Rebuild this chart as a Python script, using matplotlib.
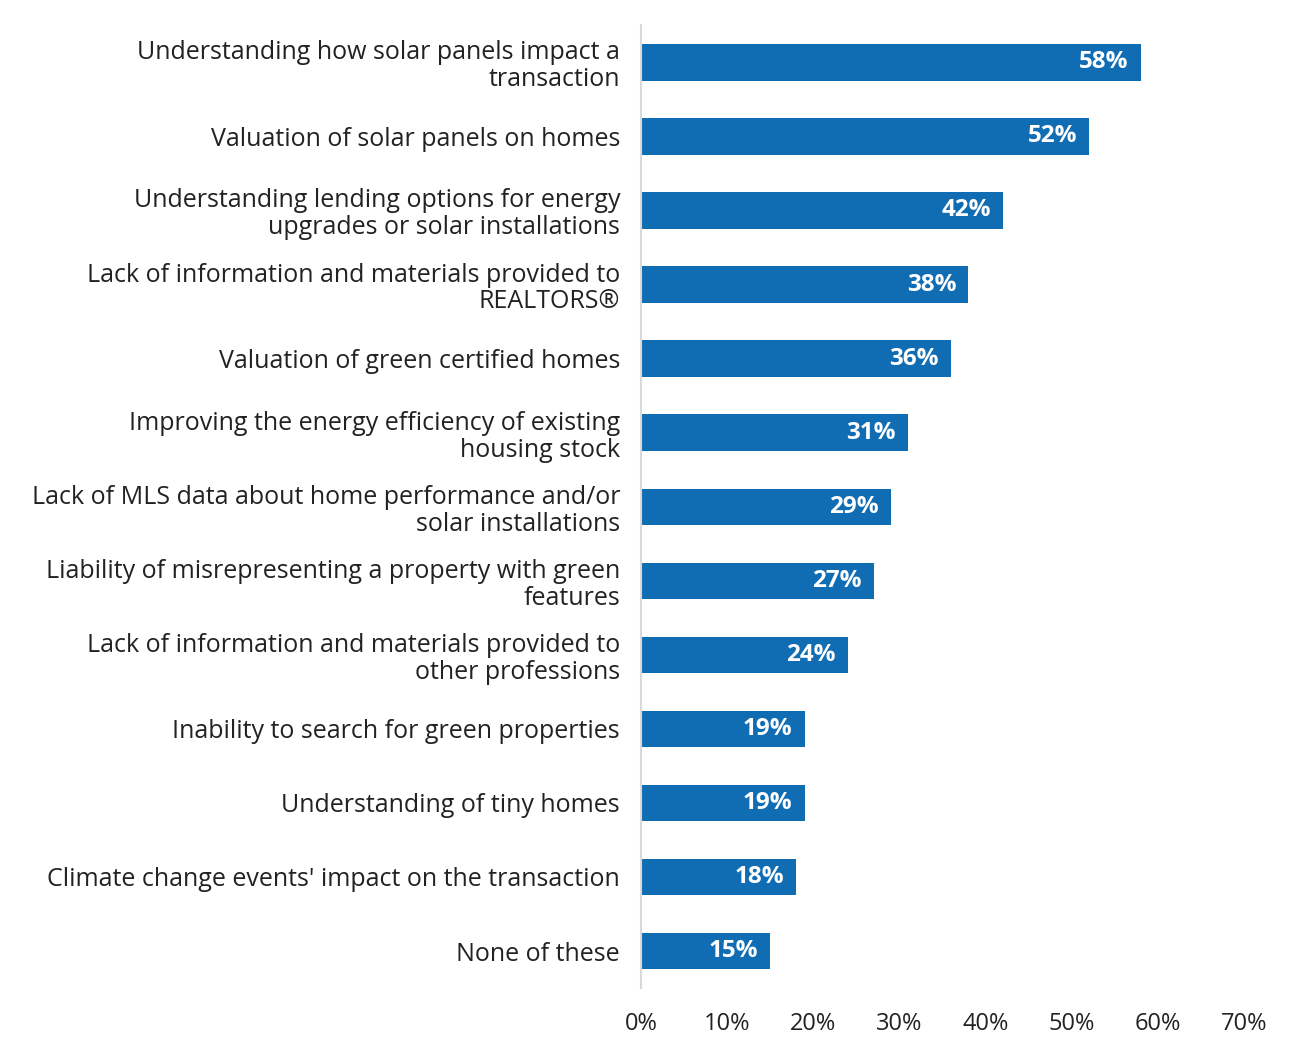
import matplotlib
matplotlib.use("Agg")
import matplotlib.pyplot as plt
from matplotlib.ticker import FuncFormatter

categories = [
    "Understanding how solar panels impact a\ntransaction",
    "Valuation of solar panels on homes",
    "Understanding lending options for energy\nupgrades or solar installations",
    "Lack of information and materials provided to\nREALTORS®",
    "Valuation of green certified homes",
    "Improving the energy efficiency of existing\nhousing stock",
    "Lack of MLS data about home performance and/or\nsolar installations",
    "Liability of misrepresenting a property with green\nfeatures",
    "Lack of information and materials provided to\nother professions",
    "Inability to search for green properties",
    "Understanding of tiny homes",
    "Climate change events' impact on the transaction",
    "None of these",
]
values = [58, 52, 42, 38, 36, 31, 29, 27, 24, 19, 19, 18, 15]
xticks = [0, 10, 20, 30, 40, 50, 60, 70]

plt.rcParams['font.family'] = ['Open Sans', 'DejaVu Sans']

fig = plt.figure(figsize=(13, 10.43), dpi=100)
ax = fig.add_axes([0.493, 0.0527, 0.464, 0.923])

color = "#106DB3"
ypos = list(range(len(categories)))
bars = ax.barh(ypos, values, height=0.49, color=color)
for y, v in zip(ypos, values):
    ax.text(v - 1.4, y, f"{v}%", ha="right", va="center", color="white",
            fontsize=17.5, fontweight="bold")

ax.set_yticks(ypos)
ax.set_yticklabels(categories, fontsize=18, color="#222222", linespacing=1.1)
ax.set_ylim(len(categories) - 0.5, -0.5)
ax.set_xlim(0, 70)
ax.set_xticks(xticks)
ax.xaxis.set_major_formatter(FuncFormatter(lambda x, p: f"{int(x)}%"))
ax.tick_params(axis="x", length=0, pad=17, labelsize=17, labelcolor="#222222")
ax.tick_params(axis="y", length=0, pad=15)

for s in ["top", "right", "bottom"]:
    ax.spines[s].set_visible(False)
ax.spines["left"].set_color("#D9D9D9")
ax.spines["left"].set_linewidth(1.5)

fig.savefig("out.png", dpi=100, facecolor="white")
